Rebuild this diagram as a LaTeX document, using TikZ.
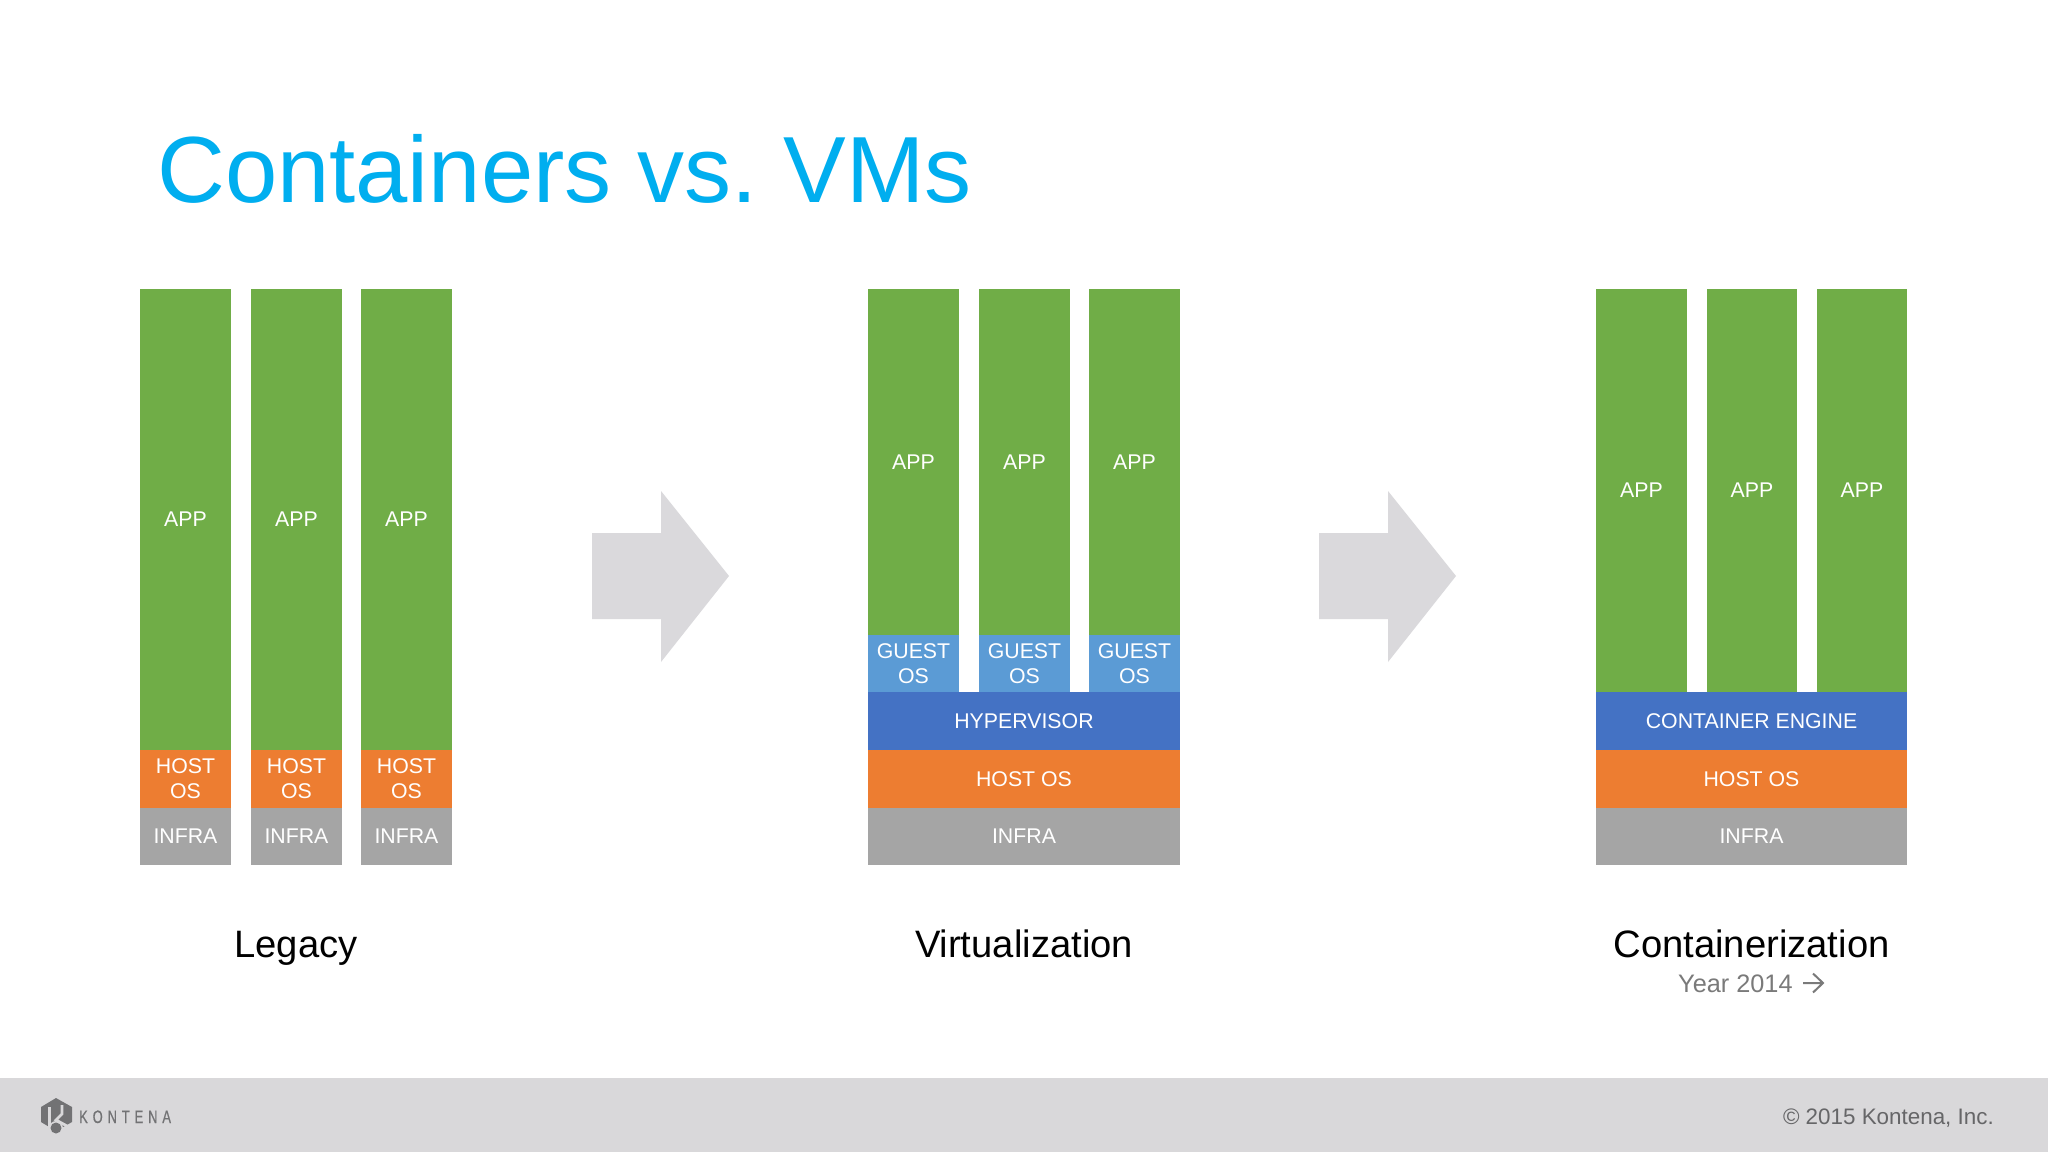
\documentclass[tikz,border=0pt]{standalone}
\usepackage{fontspec}
\setmainfont{Liberation Sans}
\newfontfamily\logofont[FakeStretch=0.72,LetterSpace=27,FakeBold=0.5]{Liberation Sans}
\definecolor{cgreen}{HTML}{70AD47}
\definecolor{corange}{HTML}{ED7D31}
\definecolor{cgray}{HTML}{A5A5A5}
\definecolor{cguest}{HTML}{5B9BD5}
\definecolor{chyper}{HTML}{4472C4}
\definecolor{cfoot}{HTML}{D9D8DA}
\definecolor{carrow}{HTML}{DAD9DC}
\definecolor{ctitle}{HTML}{00AEEF}
\definecolor{clogo}{HTML}{727274}
\definecolor{cyear}{HTML}{7A7A7A}
\definecolor{ccopy}{HTML}{666668}
\newcommand{\blk}[7]{%
  \pgfmathsetmacro{\bw}{#3-#2}\pgfmathsetmacro{\bh}{#5-#4}%
  \pgfmathsetmacro{\bx}{(#2+#3)/2}\pgfmathsetmacro{\by}{(#4+#5)/2}%
  \node[layer,#6,minimum width=\bw pt,minimum height=\bh pt] (#1) at (\bx,\by) {#7};}
\tikzset{
  layer/.style={inner sep=0pt,outer sep=0pt,text=white,align=center,font=\fontsize{21.3}{25}\selectfont},
  green/.style={fill=cgreen},
  orange/.style={fill=corange},
  grayl/.style={fill=cgray},
  guest/.style={fill=cguest},
  hyper/.style={fill=chyper},
  heading/.style={font=\fontsize{38.2}{40}\selectfont,text=black,anchor=base,inner sep=0pt},
  bigarrow/.style={fill=carrow,draw=none}
}
\begin{document}
\begin{tikzpicture}[x=1pt,y=-1pt]
\useasboundingbox (0,0) rectangle (2048,1152);
\fill[white] (0,0) rectangle (2048,1152);
\fill[cfoot] (0,1078) rectangle (2048,1152);
\node[anchor=base west,inner sep=0pt,text=ctitle,font=\fontsize{94}{100}\selectfont] (title) at (157,202) {Containers vs.\kern-9pt{} VMs};
% Legacy
\blk{la}{140}{231}{289}{750}{green}{APP}
\blk{lb}{251}{342}{289}{750}{green}{APP}
\blk{lc}{361}{452}{289}{750}{green}{APP}
\blk{lha}{140}{231}{750}{808}{orange}{HOST\\OS}
\blk{lhb}{251}{342}{750}{808}{orange}{HOST\\OS}
\blk{lhc}{361}{452}{750}{808}{orange}{HOST\\OS}
\blk{lia}{140}{231}{808}{865}{grayl}{INFRA}
\blk{lib}{251}{342}{808}{865}{grayl}{INFRA}
\blk{lic}{361}{452}{808}{865}{grayl}{INFRA}
% Virtualization
\blk{va}{868}{959}{289}{635}{green}{APP}
\blk{vb}{979}{1070}{289}{635}{green}{APP}
\blk{vc}{1089}{1180}{289}{635}{green}{APP}
\blk{vga}{868}{959}{635}{692}{guest}{GUEST\\OS}
\blk{vgb}{979}{1070}{635}{692}{guest}{GUEST\\OS}
\blk{vgc}{1089}{1180}{635}{692}{guest}{GUEST\\OS}
\blk{vh}{868}{1180}{692}{750}{hyper}{HYPERVISOR}
\blk{vo}{868}{1180}{750}{808}{orange}{HOST OS}
\blk{vi}{868}{1180}{808}{865}{grayl}{INFRA}
% Containerization
\blk{ca}{1596}{1687}{289}{692}{green}{APP}
\blk{cb}{1707}{1797}{289}{692}{green}{APP}
\blk{cc}{1817}{1907}{289}{692}{green}{APP}
\blk{ce}{1596}{1907}{692}{750}{hyper}{CONTAINER ENGINE}
\blk{co}{1596}{1907}{750}{808}{orange}{HOST OS}
\blk{ci}{1596}{1907}{808}{865}{grayl}{INFRA}
% arrows
\fill[bigarrow] (592,533) -- (661,533) -- (661,491) -- (729,576) -- (661,662) -- (661,619) -- (592,619) -- cycle;
\fill[bigarrow] (1319,533) -- (1388,533) -- (1388,491) -- (1456,576) -- (1388,662) -- (1388,619) -- (1319,619) -- cycle;
% headings
\node[heading] (h1) at (296,957.5) {Legacy};
\node[heading] (h2) at (1024,957.5) {Virtualization};
\node[heading] (h3) at (1751.5,957.5) {Containerization};
\node[anchor=base west,inner sep=0pt,text=cyear,font=\fontsize{25.3}{28}\selectfont] (year) at (1678,992) {Year 2014};
\draw[cyear,line width=2pt] (1803,983) -- (1822,983) (1813,973.5) -- (1823,983) -- (1813,992.5);
% footer
\node[anchor=base east,inner sep=0pt,text=ccopy,font=\fontsize{22.4}{26}\selectfont] (copy) at (1994,1124) {© 2015 Kontena, Inc.};
\fill[clogo] (56,1098) -- (72,1107) -- (72,1122) -- (56,1131) -- (41,1122) -- (41,1107) -- cycle;
\draw[cfoot,line width=2.8pt] (49.5,1107) -- (49.5,1128) (62,1105) -- (62,1114) -- (56,1120) -- (67,1126);
\fill[cfoot] (56,1128) circle (7);
\fill[clogo] (56,1128) circle (5.5);
\node[anchor=base west,inner sep=0pt,text=clogo,font=\logofont\fontsize{18}{20}\selectfont] (kont) at (79,1123) {KONTENA};
\end{tikzpicture}
\end{document}
